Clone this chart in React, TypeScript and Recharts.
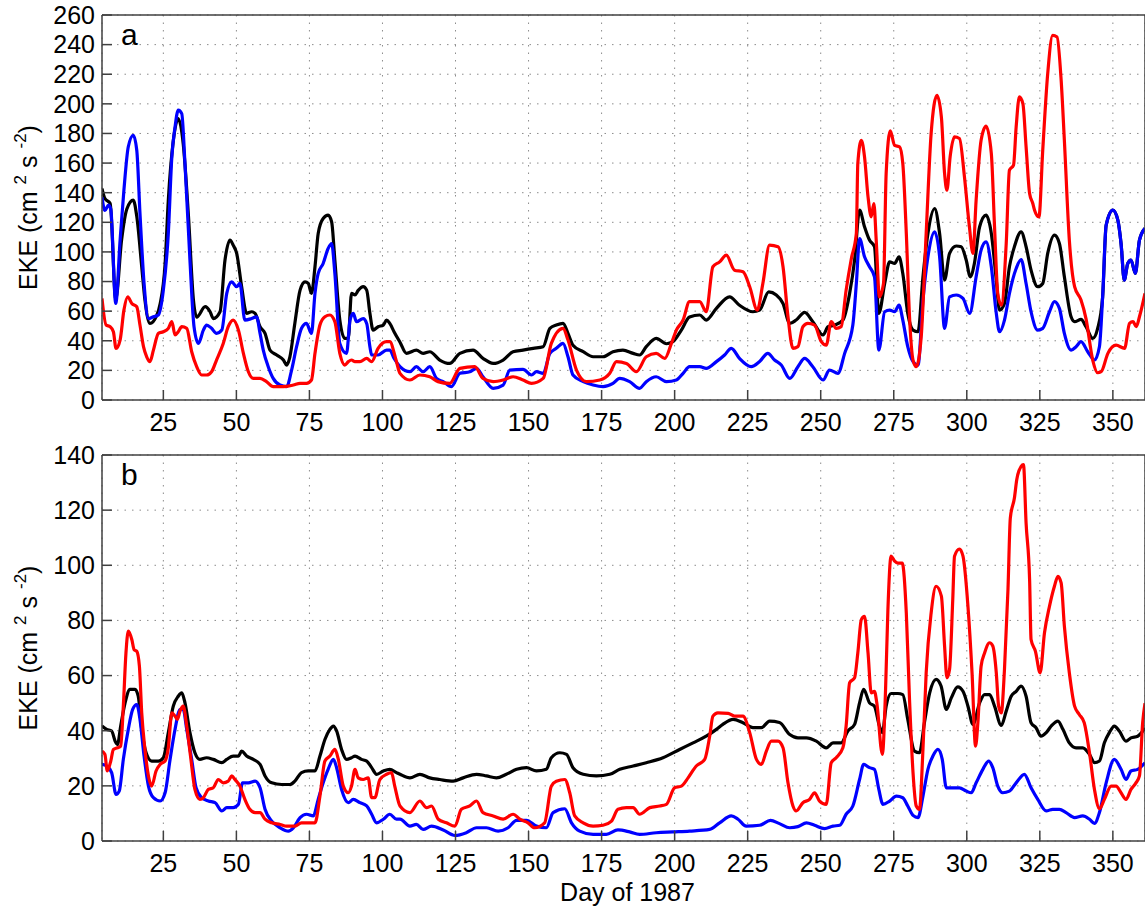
import React from 'react';
import { LineChart, Line, XAxis, YAxis, CartesianGrid, Customized } from 'recharts';

type Pt = [number, number];

// Day-of-year ticks shared by both panels
const dayTicks = [25, 50, 75, 100, 125, 150, 175, 200, 225, 250, 275, 300, 325, 350];
const dayDomain: [number, number] = [4, 361];

const ekeTicksA = [0, 20, 40, 60, 80, 100, 120, 140, 160, 180, 200, 220, 240, 260];
const ekeTicksB = [0, 20, 40, 60, 80, 100, 120, 140];

// Panel a: [day, EKE]
const aBlack: Pt[] = [
  [4, 142.8], [5, 136], [6.8, 132.7], [8.7, 68], [10.7, 108], [12.5, 129], [14.7, 135], [15.9, 124], [17.6, 90], [18.7, 67.5],
  [20.4, 51.7], [22.7, 57], [23.9, 65], [25.6, 92], [26.7, 135], [28.4, 175], [30.1, 190], [31.8, 173], [33.6, 124], [35.3, 67.5],
  [36.4, 56], [39.3, 63], [41, 59.6], [42.1, 55], [44.4, 59.6], [46.1, 94.5], [47.8, 108], [48.9, 104.6], [50.1, 99], [51.8, 76.5],
  [53.5, 58.5], [55.2, 59.6], [56.4, 58.5], [58.1, 49.5], [59.8, 45], [61.5, 33.7], [63.8, 30.4], [66.1, 27], [67.2, 23.6], [68.3, 29],
  [70, 51.7], [71.8, 74.2], [73.5, 79.8], [74.6, 78.7], [75.7, 72], [76.9, 90], [78, 112.5], [79.7, 122.6], [81.4, 124.8], [82.6, 120.3],
  [83.7, 94.5], [85.4, 54], [87.1, 41.6], [88.3, 41.6], [89.4, 72], [90.6, 71], [91.7, 74], [93.4, 76.5], [94.6, 74.2], [95.7, 58.5],
  [96.8, 47.2], [98.5, 49.5], [100.3, 50.6], [101.4, 54], [102.5, 51.7], [104, 46], [106, 39], [108.2, 31.5], [111.6, 33.7], [113.9, 31.5],
  [116.2, 32.6], [119.6, 27], [123, 24.7], [126.5, 31.5], [131, 33.7], [134.4, 28.1], [137.9, 24.7], [141.3, 27], [144.7, 32.6], [148.1, 33.7],
  [151.6, 34.9], [155, 36], [157.3, 48.4], [159.5, 50.6], [161.8, 51.7], [163.5, 45], [165.2, 37], [168.7, 32.6], [172.1, 29.2], [175.5, 29.2],
  [178.9, 32.6], [182.3, 33.7], [185.8, 31.5], [188, 30.4], [190.3, 36], [193.7, 41.6], [197.2, 38], [199.4, 39.4], [202.3, 47.2], [205.1, 56],
  [208.6, 57.4], [210.8, 54], [214.3, 61.9], [218.8, 69.7], [222.2, 64], [226.8, 59.6], [229.1, 60.7], [232.2, 73], [234.8, 70.9], [237.1, 65.2],
  [239.4, 51.7], [241.6, 54], [244.5, 59.2], [247.3, 52.9], [250.8, 43.9], [252.5, 49.5], [254.8, 50.6], [257.6, 54], [259.9, 72], [261.6, 94.5],
  [263.3, 128.2], [265, 117], [266.7, 108], [268.4, 103.5], [269.9, 58.5], [271.9, 78.7], [273.6, 93.3], [275.3, 92.2], [276.8, 96.7], [278.1, 85.5],
  [279.8, 58.5], [281.6, 47.2], [283.3, 46.1], [285, 83.2], [286.7, 112.5], [289, 129.3], [290.7, 112.5], [292.4, 81], [294.1, 99], [296.4, 104],
  [298.1, 103.5], [299.8, 94.5], [301.2, 83.2], [302.6, 92.2], [304.4, 117], [306.6, 124.8], [308.4, 112.5], [310.1, 81], [311.2, 60.7], [312.9, 65.2],
  [314.6, 90], [316.3, 103.5], [318.6, 113.6], [320.3, 103.5], [322, 87.7], [324.3, 76.5], [326, 78.7], [327.7, 99], [330, 111.3], [331.7, 105.7],
  [333.4, 83.2], [335.7, 56.2], [336.9, 52.9], [339.1, 54.4], [340.8, 49.5], [343.1, 41.6], [344.8, 48.4], [346.5, 69.7], [347.7, 118], [350, 128.2],
  [351.7, 121.5], [352.8, 105.7], [353.9, 81], [355.1, 92.2], [356.2, 94.5], [357.7, 85.5], [359.1, 108], [361, 116],
];

const aBlue: Pt[] = [
  [4, 137], [5, 128], [6.2, 131.6], [7, 129], [8.7, 65.2], [10.2, 108], [11.5, 141.7], [13, 171], [14.7, 178.8], [15.9, 168.7],
  [17, 126], [18.4, 78.7], [19.9, 55], [21.6, 56.2], [23.3, 57.4], [25, 74.2], [26.7, 112.5], [27.9, 164], [29, 184.4], [30.1, 195.7],
  [31.3, 193.4], [32.4, 159.7], [34.1, 94.5], [35.5, 49.5], [37, 38.2], [38.7, 47.2], [39.8, 50.6], [41.5, 48.4], [43.2, 45], [45, 47.2],
  [46.7, 72], [48.4, 79.8], [50.1, 76.5], [51.2, 78.7], [52.9, 54], [55.2, 55], [56.9, 56.2], [58.1, 45], [59.2, 33.7], [60.9, 22.5],
  [62.6, 14.6], [64.9, 10.1], [67.2, 9], [68.9, 20.2], [70.6, 36], [72.3, 48.4], [74, 51.7], [75.7, 45], [76.9, 72], [78, 85.5],
  [79.7, 92.2], [81.4, 102.3], [82.6, 105.7], [83.7, 85.5], [85.4, 38.2], [87.7, 31.5], [88.9, 54], [90, 58.5], [91.1, 52.9], [93.4, 55],
  [94.6, 51.7], [95.7, 36], [96.3, 30.4], [98.5, 30.4], [101.4, 33.7], [102.5, 33.7], [104, 28], [106, 22.5], [109.4, 19.1], [111.6, 22.5],
  [113.9, 19.1], [116.2, 22.5], [118.5, 14.6], [120.8, 12.4], [123.6, 9], [126.5, 18], [129.9, 19.1], [132.2, 21.4], [134.4, 15.7], [137.9, 7.9],
  [141.3, 10.1], [143.6, 20.2], [148.1, 20.7], [151, 16.9], [152.7, 19.1], [155, 18], [157.3, 31.5], [159.5, 34.9], [161.8, 38.2], [163.5, 29.2],
  [165.2, 16.9], [168.7, 12.4], [172.1, 10.1], [175.5, 9], [178.9, 11.2], [181.2, 14.6], [184.6, 12.4], [188, 7.9], [190.3, 12.4], [193.7, 15.7],
  [197.2, 12.4], [200.6, 13.5], [202.9, 18], [205.1, 22.5], [208.6, 22.5], [210.8, 21.4], [214.3, 25.9], [217.1, 30.4], [219.4, 34.9], [222.2, 28.1],
  [226.2, 22.5], [229.1, 26], [231.9, 31.5], [234.2, 27], [236.5, 23.6], [239.4, 14.6], [242.2, 22.5], [244.5, 28.1], [247.3, 22.5], [250.8, 13.5],
  [253, 20.2], [255.9, 18], [258.2, 31.5], [261, 50.6], [262.2, 78.7], [263.3, 109], [265, 96.7], [266.7, 90], [268.4, 83.2], [269.9, 33.7],
  [271.9, 59.6], [273.6, 60.7], [275.3, 59.6], [276.8, 64.1], [278.1, 54], [279.8, 36], [281.6, 25.9], [283.3, 23.6], [285, 67.5], [286.7, 96.7],
  [289, 113.6], [290.7, 96.7], [292.4, 48.4], [294.1, 69.7], [296.4, 70.9], [298.7, 68.6], [301, 58.5], [303.2, 83.2], [304.9, 101.2], [306.6, 106.8],
  [308.4, 90], [310.1, 58.5], [311.2, 46.1], [312.9, 54], [314.6, 72], [316.9, 88.8], [318.6, 94.9], [320.3, 78.7], [322, 59.6], [324.3, 47.2],
  [326, 48.4], [328.3, 59.6], [330, 66.4], [331.7, 61.9], [333.4, 45], [335.7, 33.7], [337.4, 36], [339.1, 39.4], [341.4, 32.6], [343.7, 27],
  [345.4, 36], [346.5, 69.7], [347.7, 118], [350, 128.2], [351.7, 121.5], [352.8, 105.7], [353.9, 81], [355.1, 92.2], [356.2, 94.5], [357.7, 85.5],
  [359.1, 108], [361, 116],
];

const aRed: Pt[] = [
  [4, 68.6], [5.4, 50.6], [6.8, 49.5], [7.9, 46.1], [8.8, 34.9], [10.2, 40.5], [11.5, 60.7], [12.8, 69.7], [14.2, 65.2], [15.9, 63],
  [17, 50.6], [18.2, 36], [19.3, 29.2], [20.4, 25.9], [21.6, 33.7], [23.3, 45], [25, 46.1], [26.7, 48.4], [27.9, 52.9], [29, 43.9],
  [30.1, 46.1], [31.3, 49.5], [33, 48.4], [34.7, 32.6], [36.4, 22.5], [38.1, 16.9], [39.8, 16.9], [41.5, 19.1], [43.2, 27], [45.5, 38.2],
  [47.2, 49.5], [48.9, 54], [50.7, 47.2], [52.4, 31.5], [54.1, 19.1], [55.8, 14.6], [58.1, 14.6], [60.3, 12.4], [62.6, 9], [66.1, 9],
  [69.5, 10.1], [71.8, 11.2], [74, 11.2], [75.7, 13.5], [76.9, 31.5], [78.6, 50.6], [80.3, 56.2], [82, 57.4], [83.7, 52.9], [85.4, 31.5],
  [87.1, 23.6], [88.3, 25.9], [89.4, 27], [90.6, 25.9], [92.3, 25.9], [94.6, 28.1], [96.3, 25.9], [98.5, 34.9], [101.4, 39.4], [102.5, 39.4],
  [104.5, 28.1], [106, 18], [109.4, 13.5], [112.8, 16.9], [116.2, 15.7], [119, 12.4], [123, 11.2], [126.5, 21.4], [131.6, 22.5], [134.4, 14.6],
  [137.9, 12.4], [141.3, 13.5], [144.7, 15.7], [148.1, 13.5], [151, 11.2], [155, 14.6], [157.8, 38.2], [161.8, 48.4], [163.5, 40.5], [166.4, 20.2],
  [169.8, 12.4], [174.4, 13.5], [177.8, 18], [180.1, 25.9], [183.5, 24.7], [186.9, 19.1], [190.3, 29.2], [193.7, 31.5], [196.6, 28.1], [198.9, 38.2],
  [200.6, 47.2], [202.9, 54], [205.1, 66.4], [208.6, 66.4], [210.8, 59.6], [213.1, 90], [215.4, 93.3], [217.7, 97.8], [220.5, 87.7], [223.4, 86.6],
  [225.7, 76.5], [228.3, 60.7], [230.2, 78.7], [232.5, 104.6], [235.4, 103.5], [237.1, 90], [238.8, 56.2], [240.5, 34.9], [242.2, 36], [243.9, 49.5],
  [245.6, 51.7], [247.9, 50.6], [250.2, 39.4], [251.9, 37], [253.6, 52.9], [255.3, 48.4], [257, 49.5], [258.7, 74.2], [260.5, 95.6], [262.2, 112.5],
  [262.7, 159.7], [263.9, 175.4], [265, 164.2], [266.2, 137.2], [267.3, 123.7], [268.2, 132.7], [269, 108], [270.1, 69.7], [271.5, 78.7], [272.4, 152.9],
  [273.8, 181.7], [275.3, 172], [277, 171], [278.1, 159.7], [279.3, 112.5], [280.4, 56.2], [281.6, 27], [282.7, 22.5], [284.4, 42.7], [286.1, 112.5],
  [287.8, 180], [289.8, 205.8], [291.3, 191.2], [292.4, 153], [293.2, 141.7], [294.3, 164.2], [295.8, 177.7], [297.5, 176.6], [299.2, 150.7], [300.9, 117],
  [302.1, 99], [303.2, 135], [304.9, 175.4], [306.6, 184.9], [308.4, 166.4], [309.5, 117], [310.6, 72], [311.8, 64], [313.5, 105.7], [314.6, 155.2],
  [316, 158.6], [316.9, 184.4], [318, 204.7], [319.2, 200.2], [320.3, 171], [321.5, 139.5], [322.6, 132.7], [323.2, 128.2], [324.7, 123.7], [326, 168.7],
  [327.7, 220.4], [329.4, 246.3], [330.9, 245.2], [332.3, 216], [333.4, 175.4], [335.1, 108], [336.9, 76.5], [339.1, 67.5], [340.8, 55], [343.1, 27],
  [344.8, 18.4], [346, 19.1], [348.3, 31.5], [351.1, 37], [354, 34.9], [355.7, 51.7], [356.9, 52.9], [358, 49.5], [359.1, 56.2], [361, 72],
];

// Panel b: [day, EKE]
const bBlack: Pt[] = [
  [4, 41.7], [5.6, 40.5], [7.3, 39.9], [8.5, 36.2], [9.3, 35], [10.4, 41.7], [11.9, 50.1], [13.6, 55], [15.3, 55], [16.4, 52.5],
  [17.6, 40.5], [19.1, 32], [21, 29], [23.3, 29], [25, 30.2], [26.7, 39.3], [28.4, 48.9], [30.1, 52.5], [31.3, 53.7], [32.4, 50.1],
  [34.1, 39.3], [35.8, 32], [37.5, 29.6], [39.8, 30.2], [42.1, 29.6], [45, 28.4], [46.7, 29.6], [48.9, 30.8], [50.7, 30.8], [51.8, 32.6],
  [53.5, 30.8], [55.8, 29.6], [58.1, 27.8], [59.8, 23.6], [62.1, 21.1], [65.5, 20.5], [68.3, 20.5], [70, 21.7], [72.3, 24.8], [74.6, 25.4],
  [76.9, 25.4], [78.6, 30.8], [80.3, 36.8], [82, 40.5], [83.2, 41.7], [84.3, 39.9], [86, 33.2], [87.7, 29.6], [89.4, 30.2], [90.6, 30.8],
  [92.8, 29.6], [94.6, 29], [96.3, 26.6], [98, 24.2], [100.3, 25.4], [102.5, 26], [104.8, 24.8], [106, 24.2], [109.4, 22.9], [112.8, 24.2],
  [116.2, 22.9], [119.6, 22.3], [124.2, 21.7], [127.6, 22.9], [132.2, 24.2], [135.6, 23.6], [139, 22.9], [142.4, 24.2], [145.9, 26], [149.3, 26.6],
  [152.7, 25.4], [156.1, 26], [157.8, 30.2], [160.7, 32], [163, 31.4], [165.2, 26.6], [168.7, 24.2], [173.2, 23.6], [177.8, 24.2], [181.2, 26],
  [185.8, 27.2], [190.3, 28.4], [196, 30.2], [201.7, 33.2], [206.3, 35.6], [210.8, 38], [214.3, 40.5], [216.5, 42.3], [220, 44.1], [223.4, 42.9],
  [226.8, 41.1], [229.7, 41.1], [232.5, 43.5], [235.9, 43], [239.4, 38.6], [242.2, 37.4], [245.1, 37.4], [248.5, 36.2], [251.9, 33.8], [254.2, 35.6],
  [257, 35.6], [259.3, 39.9], [261.6, 42.3], [263.3, 50.1], [264.7, 55], [266.7, 50.1], [268.4, 48.9], [270.1, 41.7], [271.1, 39.3], [272.4, 48.9],
  [274.1, 53.5], [276.4, 53.5], [278.1, 53.1], [279.8, 44.1], [282.1, 32.6], [283.8, 32], [285.5, 42.9], [287.3, 53.7], [289.5, 58.6], [291.2, 56.2],
  [293, 47.7], [294.7, 51.9], [296.9, 55.9], [298.7, 54.3], [300.4, 48.9], [302.1, 42.3], [304.4, 50.1], [306.1, 53.1], [307.8, 53.1], [309.5, 48.9],
  [311.8, 41.9], [313.5, 47.1], [315.2, 52.5], [316.9, 54.3], [318.6, 56.2], [320.3, 52.5], [322, 42.9], [323.7, 41.1], [325.4, 38], [327.2, 39.3],
  [328.9, 41.7], [331.2, 43.5], [332.9, 40.5], [335.1, 35.6], [337.4, 33.8], [339.7, 33.8], [342, 31.4], [343.7, 28.4], [345.4, 29], [347.1, 35.6],
  [348.8, 39.3], [350.5, 41.7], [352.2, 39.9], [354.5, 36.2], [356.2, 37.4], [358.5, 38], [361, 41],
];

const bBlue: Pt[] = [
  [4, 27.8], [5.6, 27.2], [7.3, 24.8], [8.8, 16.9], [9.9, 18.1], [11.3, 29.6], [13, 40.5], [14.5, 47.7], [15.9, 49.5], [17, 44.1],
  [18.4, 30.8], [19.9, 19.9], [21.6, 15.7], [23.9, 14.5], [25.6, 17.5], [27.3, 29.6], [29, 40.5], [30.7, 47.7], [31.8, 47.7], [33, 40.5],
  [34.7, 29.6], [36.2, 19.3], [38.1, 15.7], [40.4, 14.5], [42.7, 13.9], [45, 10.9], [46.7, 12.1], [48.9, 12.1], [50.7, 13.3], [52.1, 21.1],
  [54.1, 21.1], [56.4, 21.7], [58.1, 19.3], [59.8, 11.5], [62.1, 7.2], [65, 4.8], [67.8, 3.6], [69.5, 4.8], [71.8, 8.5], [74, 9.7],
  [76.3, 9.1], [78, 15.1], [79.7, 21.1], [81.4, 26], [83.2, 29.6], [84.3, 26.6], [86, 18.7], [88.3, 13.9], [90, 15.1], [92.3, 13.9],
  [94.6, 12.7], [96.3, 9.7], [98, 6.6], [100.3, 7.9], [102.5, 9.7], [104.8, 7.9], [106, 7.9], [109.4, 5.4], [111.6, 6], [113.9, 4.2],
  [116.8, 5.4], [120.8, 4], [124.8, 2], [128.7, 3], [132.2, 4.8], [135.6, 4.8], [139.6, 3.6], [143, 4.8], [145.9, 7.5], [149.3, 7.5],
  [152.7, 5.4], [156.1, 4.8], [158.4, 10.3], [162.4, 11.7], [164.7, 6.6], [167.5, 3.6], [172.1, 2.4], [176.6, 2.4], [180.6, 4], [184.6, 3.3],
  [188, 2.4], [193.7, 3], [199.4, 3.3], [205.1, 3.6], [212, 4.2], [215.4, 6.6], [219.4, 9.1], [221.7, 7.9], [224.5, 5.4], [229.1, 5.7],
  [232.8, 7.5], [235.9, 6.3], [239.4, 4.8], [242.2, 5.2], [245.1, 6.6], [247.9, 5.7], [251.3, 4.5], [254.2, 5.4], [256.5, 5.7], [258.7, 9.7],
  [261, 12.7], [263.3, 22.3], [264.7, 27.8], [266.7, 26.6], [268.4, 26], [269.9, 18.7], [271.3, 13.3], [273.6, 14.5], [275.9, 16.3], [278.1, 15.7],
  [279.8, 12.7], [281.6, 9.3], [283.3, 8.5], [285, 16.3], [286.7, 26], [288.4, 30.8], [290.1, 33.2], [291.6, 29.6], [293, 19.3], [295.2, 19.3],
  [297.5, 19.3], [299.8, 18.1], [301.5, 17.5], [303.2, 21.1], [305.5, 26], [307.5, 29], [308.9, 26.6], [310.6, 19.9], [312.3, 17.5], [314.6, 18.1],
  [316.9, 21.1], [319.7, 24.2], [322, 19.3], [324.3, 15.1], [327.2, 10.9], [329.4, 11.5], [331.7, 11.5], [334, 10.3], [336.9, 8.5], [339.7, 9.1],
  [342, 7.9], [343.7, 6.4], [345.4, 10.3], [347.7, 21.1], [350.5, 29.6], [352.8, 26], [354.5, 22.3], [356.2, 25.4], [358.5, 26], [361, 28.4],
];

const bRed: Pt[] = [
  [4, 32.6], [5, 31.4], [5.8, 25.4], [7, 29], [7.9, 33.2], [9.3, 33.8], [10.4, 34.4], [11.3, 48.9], [12.2, 68.2], [13, 76.1],
  [14.2, 73.1], [15, 69.4], [15.9, 68.8], [16.8, 63.4], [17.6, 46.5], [18.7, 33.2], [19.9, 23.6], [21, 19.9], [22.5, 25.4], [23.9, 27.8],
  [25.6, 29], [26.7, 33.8], [27.9, 46.5], [29, 45.3], [29.8, 44.1], [30.7, 47.1], [31.8, 48.9], [33, 41.7], [34.3, 30.8], [35.8, 18.7],
  [37.5, 15.1], [38.7, 15.7], [40.4, 18.7], [42.1, 19.3], [43.8, 22.3], [45.5, 21.1], [47.2, 21.7], [48.4, 23.6], [49.5, 22.3], [51.2, 19.9],
  [52.9, 15.1], [54.6, 11.5], [56.4, 10.3], [58.1, 10.3], [59.8, 7.9], [62.1, 6.6], [65, 6], [67.2, 5.4], [70, 5.4], [72.3, 6.6],
  [74.6, 6.6], [76.9, 6.6], [78.6, 16.3], [80.3, 29], [82, 30.8], [83.7, 33.2], [84.9, 29.6], [86.6, 19.9], [88.3, 17.5], [89.4, 19.9],
  [90.6, 26], [91.7, 22.9], [93.4, 22.3], [95.1, 22.9], [96.3, 15.7], [97.4, 15.7], [99.1, 22.3], [101.4, 24.2], [103.1, 24.8], [104.2, 19.9],
  [106, 12.7], [109.4, 10.3], [112.8, 14.5], [115.1, 12.1], [116.8, 12.7], [119.1, 7.9], [121.9, 6.6], [124.8, 5.4], [127, 11.5], [129.9, 12.7],
  [132.2, 14.5], [134.4, 10.3], [137.9, 9.1], [141.3, 7.9], [144.7, 9.7], [147, 7.9], [149.8, 6.6], [152.1, 4.8], [155.5, 6.6], [157.8, 19.9],
  [159.5, 21.7], [162.4, 22.3], [164.1, 17.5], [165.8, 9.1], [168.7, 6.6], [172.1, 5.4], [175.5, 5.7], [178.4, 7.2], [180.6, 11.5], [183.5, 12.1],
  [185.8, 12.1], [188, 9.7], [191.5, 12.1], [194.9, 12.7], [197.2, 13.3], [200, 19.3], [202.3, 19.9], [204.6, 22.9], [207.4, 27.2], [210.3, 29.6],
  [212, 38], [213.1, 45.3], [214.8, 46.5], [218.3, 46.3], [220.5, 45.3], [223.4, 45.3], [225.7, 39.3], [228, 29.6], [229.7, 27.8], [231.4, 32.6],
  [233.1, 36.2], [235.4, 36.2], [237.1, 33.8], [238.8, 21.1], [240.5, 12.7], [241.6, 10.9], [243.9, 13.9], [246.2, 15.1], [247.9, 17.5], [249.6, 14.5],
  [251.9, 13.3], [253.6, 28.4], [255.3, 30.2], [257.6, 33.8], [258.7, 41.7], [259.9, 57.4], [261.6, 59.2], [262.7, 68.2], [263.9, 80.3], [265, 81.5],
  [266.2, 68.2], [267.3, 53.7], [268.4, 54.3], [269.2, 50.1], [271.1, 31.4], [272.2, 55], [273, 83.9], [274.1, 103.3], [275.3, 101.5], [276.4, 100.8],
  [277.9, 100.8], [279.3, 82.7], [280.4, 51.3], [281.6, 24.8], [282.7, 12.7], [283.8, 11.5], [285, 33.2], [286.1, 61], [287.8, 82.7], [289.5, 92.4],
  [291.3, 88.8], [292.4, 70.7], [293.2, 59.2], [294.1, 62.2], [295.2, 87.6], [295.8, 103.3], [297.5, 105.9], [298.7, 103.3], [300.4, 85.1], [301.8, 61],
  [303, 34.4], [303.8, 42.9], [304.9, 63.4], [306.1, 68.2], [307.8, 71.9], [308.9, 70.7], [310.1, 61], [310.9, 48.9], [311.8, 46.5], [312.9, 62.2],
  [314.1, 91.2], [314.9, 117.1], [316.3, 124.4], [317.1, 131], [318.6, 135.9], [319.4, 136.5], [320.3, 115.3], [321.5, 94.8], [322, 73.1], [323.5, 68.8],
  [325.1, 61], [326.6, 75.5], [328.3, 85.1], [330, 92.4], [331.2, 96], [332.3, 93.6], [333.4, 77.9], [335.1, 61], [336.9, 48.9], [338.5, 45.9],
  [340.2, 42.9], [342, 32], [343.7, 18.7], [345.4, 11.7], [347.1, 15.1], [349.4, 19.9], [351.1, 19.9], [352.8, 17.5], [354.5, 15.1], [356.2, 18.7],
  [357.9, 21.1], [359.1, 23.6], [360.2, 42.9], [361, 50],
];

const toRows = (pts: Pt[]) => pts.map(([day, eke]) => ({ day, eke }));

const FONT = '"Liberation Sans", Arial, Helvetica, sans-serif';
const AXIS_COLOR = '#404040';
const PAGE_W = 1145;
const Y_AXIS_W = 102;
const TICK_IN = -10;
const LINE_W = 3.2;

type PanelProps = {
  height: number;
  plotTop: number;
  plotHeight: number;
  yMax: number;
  yTicks: number[];
  black: Pt[];
  blue: Pt[];
  red: Pt[];
  letter: string;
  showXTitle?: boolean;
};

function YTitle({ cx, cy }: { cx: number; cy: number }) {
  return (
    <text
      x={cx}
      y={cy}
      transform={`rotate(-90 ${cx} ${cy})`}
      textAnchor="middle"
      fontFamily={FONT}
      fontSize={25}
      fill="#000"
    >
      {'EKE (cm  '}
      <tspan fontSize={17} dy={-11}>{'2'}</tspan>
      <tspan dy={11}>{' s '}</tspan>
      <tspan fontSize={17} dy={-11}>{'-2'}</tspan>
      <tspan dy={11}>{')'}</tspan>
    </text>
  );
}

function Panel({ height, plotTop, plotHeight, yMax, yTicks, black, blue, red, letter, showXTitle }: PanelProps) {
  const xAxisH = height - plotTop - plotHeight;
  const axisStyle = { stroke: AXIS_COLOR, strokeWidth: 1.5 };
  const tickFont = { fontSize: 25, fontFamily: FONT, fill: '#000' };
  const lineCommon = {
    xAxisId: 'bottom',
    yAxisId: 'left',
    dataKey: 'eke',
    type: 'monotone' as const,
    strokeWidth: LINE_W,
    strokeLinejoin: 'round' as const,
    dot: false,
    activeDot: false,
    isAnimationActive: false,
  };
  return (
    <LineChart
      width={PAGE_W + 1}
      height={height}
      margin={{ top: plotTop - 1, right: 0, bottom: 0, left: 0 }}
    >
      <CartesianGrid
        xAxisId="bottom"
        yAxisId="left"
        stroke="#8c8c8c"
        strokeWidth={1}
        strokeDasharray="1.5 6"
      />
      <XAxis
        xAxisId="bottom"
        dataKey="day"
        type="number"
        domain={dayDomain}
        ticks={dayTicks}
        allowDataOverflow
        height={xAxisH}
        tickSize={TICK_IN}
        tickMargin={23}
        axisLine={axisStyle}
        tickLine={axisStyle}
        tick={tickFont}
        interval={0}
      />
      <XAxis
        xAxisId="top"
        orientation="top"
        dataKey="day"
        type="number"
        domain={dayDomain}
        ticks={dayTicks}
        allowDataOverflow
        height={1}
        tickSize={TICK_IN}
        axisLine={axisStyle}
        tickLine={axisStyle}
        tick={false}
        interval={0}
      />
      <YAxis
        yAxisId="left"
        type="number"
        domain={[0, yMax]}
        ticks={yTicks}
        allowDataOverflow
        width={Y_AXIS_W}
        tickSize={TICK_IN}
        tickMargin={17}
        axisLine={axisStyle}
        tickLine={axisStyle}
        tick={tickFont}
        interval={0}
      />
      <YAxis
        yAxisId="right"
        orientation="right"
        type="number"
        domain={[0, yMax]}
        ticks={yTicks}
        allowDataOverflow
        width={1}
        tickSize={TICK_IN}
        axisLine={axisStyle}
        tickLine={axisStyle}
        tick={false}
        interval={0}
      />
      <Line {...lineCommon} data={toRows(black)} stroke="#000000" />
      <Line {...lineCommon} data={toRows(blue)} stroke="#0000ff" />
      <Line {...lineCommon} data={toRows(red)} stroke="#ff0000" />
      <Customized
        component={() => (
          <g>
            <text x={Y_AXIS_W + 19} y={plotTop + 30} fontFamily={FONT} fontSize={30} fill="#000">
              {letter}
            </text>
            <YTitle cx={37} cy={plotTop + plotHeight / 2} />
            {showXTitle ? (
              <text
                x={(Y_AXIS_W + PAGE_W) / 2 + 4}
                y={plotTop + plotHeight + 60}
                textAnchor="middle"
                fontFamily={FONT}
                fontSize={25}
                fill="#000"
              >
                Day of 1987
              </text>
            ) : null}
          </g>
        )}
      />
    </LineChart>
  );
}

export default function App() {
  return (
    <div
      style={{
        position: 'absolute',
        left: 0,
        top: 0,
        width: PAGE_W,
        height: 909,
        overflow: 'hidden',
        background: '#ffffff',
      }}
    >
      <div style={{ position: 'absolute', left: 0, top: 0 }}>
        <Panel
          height={440}
          plotTop={15}
          plotHeight={385}
          yMax={260}
          yTicks={ekeTicksA}
          black={aBlack}
          blue={aBlue}
          red={aRed}
          letter="a"
        />
      </div>
      <div style={{ position: 'absolute', left: 0, top: 440 }}>
        <Panel
          height={469}
          plotTop={15}
          plotHeight={386}
          yMax={140}
          yTicks={ekeTicksB}
          black={bBlack}
          blue={bBlue}
          red={bRed}
          letter="b"
          showXTitle
        />
      </div>
    </div>
  );
}
